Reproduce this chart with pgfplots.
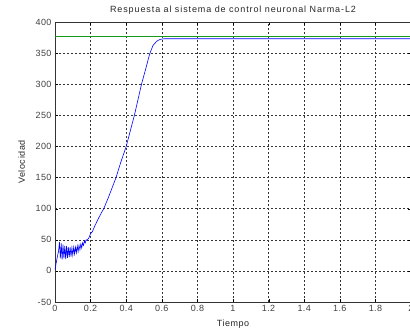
\documentclass[border=0pt]{standalone}
\usepackage{pgfplots}
\pgfplotsset{compat=1.18}
\usetikzlibrary{calc}
\usepackage{fontspec}
\setmainfont{Liberation Sans}
\definecolor{mblue}{rgb}{0,0,1}
\definecolor{mgreen}{rgb}{0.1,0.6,0.1}
\begin{document}
\begin{tikzpicture}
\begin{axis}[
  scale only axis,
  width=356pt, height=280pt,
  xmin=0, xmax=2, ymin=-50, ymax=400,
  xtick={0,0.2,...,2.01},
  ytick={-50,0,...,400},
  xticklabels={0,0.2,0.4,0.6,0.8,1,1.2,1.4,1.6,1.8,2},
  yticklabels={-50,0,50,100,150,200,250,300,350,400},
  /pgf/number format/assume math mode=true,
  ticklabel style={font=\fontsize{9}{10}\selectfont\addfontfeature{LetterSpace=4}, text=black!75},
  label style={font=\fontsize{9}{10}\selectfont\addfontfeature{LetterSpace=6}, text=black!85},
  title style={font=\fontsize{9}{10}\selectfont\addfontfeature{LetterSpace=10}, text=black!85, yshift=-2pt},
  title={Respuesta al sistema de control neuronal Narma-L2},
  xlabel={Tiempo}, ylabel={Velocidad},
  xlabel style={yshift=-1pt},
  ylabel style={yshift=4pt},
  grid=major,
  major grid style={black!80, dash pattern=on 2pt off 2pt, line width=0.5pt},
  tick align=inside, major tick length=3pt,
  tick style={black},
  axis line style={black!80, line width=0.7pt},
  clip=true,
]
\addplot[mblue, line width=0.6pt] coordinates {
(0,2) (0.005,10) (0.01,18) (0.015,25) (0.02,32) (0.025,46) (0.03,20)
(0.035,44) (0.04,18) (0.045,42) (0.05,20) (0.055,40) (0.06,19) (0.065,40)
(0.07,21) (0.075,38) (0.08,22) (0.085,38) (0.09,23) (0.095,37) (0.10,25)
(0.105,38) (0.11,27) (0.115,38) (0.12,29) (0.125,40) (0.13,31) (0.135,41)
(0.14,34) (0.145,43) (0.15,37) (0.155,45) (0.16,41) (0.165,48) (0.17,45)
(0.175,50) (0.18,49) (0.19,53) (0.2,60) (0.21,63) (0.22,70) (0.24,82)
(0.26,93) (0.274,100) (0.3,118) (0.343,150) (0.37,175) (0.40,200)
(0.446,250) (0.486,300) (0.51,325) (0.531,348) (0.55,362) (0.571,369)
(0.59,372) (0.61,373) (1,373) (2,373)
};
\addplot[mgreen, line width=0.7pt] coordinates {(0,377) (2,377)};
\end{axis}
\pgfresetboundingbox
\path[use as bounding box] ($(current axis.south west)+(-55pt,-32pt)$) rectangle ($(current axis.north east)+(-1pt,22pt)$);
\end{tikzpicture}
\end{document}
